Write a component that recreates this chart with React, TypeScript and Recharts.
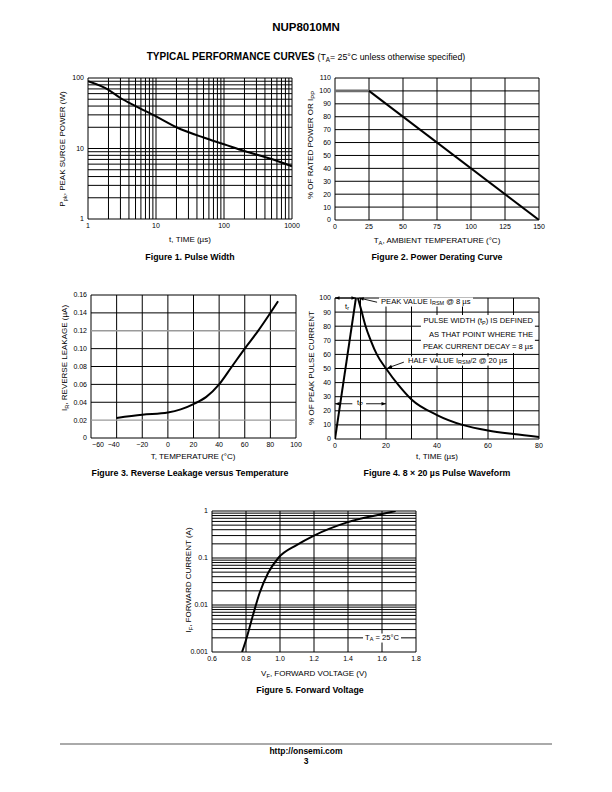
import React from "react";
import { LineChart, Line, XAxis, YAxis, ReferenceLine } from "recharts";

// Figure 1 - pulse width
const pulseTime = [1, 2, 3, 5, 10, 20, 50, 100, 200, 500, 1000];
const pulsePower = [90, 68, 52, 40, 28.5, 20, 14.3, 11.5, 9.2, 7.1, 5.6];
const pulseTimeTicks = [1, 10, 100, 1000];
const pulsePowerTicks = [1, 10, 100];

// Figure 2 - power derating
const derateTemp = [0, 25, 150];
const deratePct = [100, 100, 0];
const derateTempTicks = [0, 25, 50, 75, 100, 125, 150];
const deratePctTicks = [0, 10, 20, 30, 40, 50, 60, 70, 80, 90, 100, 110];

// Figure 3 - reverse leakage
const leakTemp = [-40, -20, 0, 10, 20, 30, 40, 50, 60, 70, 80, 86];
const leakCurrent = [0.0225, 0.026, 0.0285, 0.032, 0.038, 0.046, 0.06, 0.08, 0.1, 0.119, 0.14, 0.153];
const leakTempTicks = [-60, -40, -20, 0, 20, 40, 60, 80, 100];
const leakCurrentTicks = [0, 0.02, 0.04, 0.06, 0.08, 0.1, 0.12, 0.14, 0.16];
const leakGreyRows = [0.02, 0.12];

// Figure 4 - 8 x 20 us waveform
const riseTime = [0, 8.2];
const risePct = [0, 100];
const decayTime = [9, 10.5, 12, 14, 16.4, 20, 25, 30, 40, 50, 60, 70, 80];
const decayPct = [100, 90, 80, 70, 60, 50, 38, 28, 17, 10, 6, 3.5, 1.5];
const waveTimeTicks = [0, 20, 40, 60, 80];
const waveTimeGrid = [0, 10, 20, 30, 40, 50, 60, 70, 80];
const wavePctTicks = [0, 10, 20, 30, 40, 50, 60, 70, 80, 90, 100];

// Figure 5 - forward voltage
const fwdVolt = [0.777, 0.8, 0.84, 0.88, 0.93, 0.99, 1.1, 1.2, 1.4, 1.6, 1.68];
const fwdCurrent = [0.001, 0.0018, 0.0059, 0.018, 0.048, 0.1, 0.19, 0.3, 0.58, 0.86, 1.0];
const fwdVoltTicks = [0.6, 0.8, 1.0, 1.2, 1.4, 1.6, 1.8];
const fwdCurrentTicks = [0.001, 0.01, 0.1, 1];

const FONT = '"Liberation Sans", Arial, Helvetica, sans-serif';
const PAD_L = 30;
const PAD_R = 14;
const PAD_T = 6;
const PAD_B = 16;
const tickStyle = { fontSize: 7, fill: "#000" };
const TITLE = 8;
const CAPTION = 8.8;
const NOTE = 7.6;

// 1..9 per decade, for the log grids
function decadeGrid(lo: number, hi: number) {
  const out: number[] = [];
  for (let d = lo; d < hi * 0.99; d *= 10) {
    for (let m = 1; m < 10; m++) out.push(+(m * d).toPrecision(3));
  }
  out.push(hi);
  return out;
}

const rows = (xs: number[], ys: number[]) => xs.map((x, i) => ({ x, y: ys[i] }));

function gridLines(xs: number[], ys: number[], grey: number[] = []) {
  return [
    ...xs.map((v) => <ReferenceLine key={"gx" + v} x={v} stroke="#000" strokeWidth={1} ifOverflow="visible" />),
    ...ys.map((v) => (
      <ReferenceLine
        key={"gy" + v}
        y={v}
        stroke={grey.includes(v) ? "#9a9a9a" : "#000"}
        strokeWidth={grey.includes(v) ? 1.4 : 1}
        ifOverflow="visible"
      />
    )),
  ];
}

function arrowShape(headStart: boolean, headEnd: boolean) {
  return (p: any) => {
    const { x1, y1, x2, y2 } = p;
    const len = Math.hypot(x2 - x1, y2 - y1) || 1;
    const ux = (x2 - x1) / len;
    const uy = (y2 - y1) / len;
    const head = (tx: number, ty: number, dx: number, dy: number) => {
      const L = 4.5;
      const W = 1.8;
      const bx = tx - dx * L;
      const by = ty - dy * L;
      return `${tx},${ty} ${bx - dy * W},${by + dx * W} ${bx + dy * W},${by - dx * W}`;
    };
    return (
      <g>
        <line x1={x1} y1={y1} x2={x2} y2={y2} stroke="#000" strokeWidth={0.9} />
        {headStart && <polygon points={head(x1, y1, -ux, -uy)} fill="#000" />}
        {headEnd && <polygon points={head(x2, y2, ux, uy)} fill="#000" />}
      </g>
    );
  };
}

type Box = { x: number; y: number; w: number; h: number };

function Plot({ box, data, children }: { box: Box; data?: any[]; children: React.ReactNode }) {
  return (
    <div style={{ position: "absolute", left: box.x - PAD_L, top: box.y - PAD_T }}>
      <LineChart
        width={box.w + PAD_L + PAD_R}
        height={box.h + PAD_T + PAD_B}
        data={data}
        margin={{ top: PAD_T, right: PAD_R, left: 0, bottom: 0 }}
      >
        {children}
      </LineChart>
    </div>
  );
}

function Txt({
  x,
  y,
  children,
  size = TITLE,
  bold = false,
  anchor = "center",
  bg = false,
}: {
  x: number;
  y: number;
  children: React.ReactNode;
  size?: number;
  bold?: boolean;
  anchor?: "left" | "center" | "right";
  bg?: boolean;
}) {
  const tx = anchor === "left" ? "0" : anchor === "right" ? "-100%" : "-50%";
  return (
    <div
      style={{
        position: "absolute",
        left: x,
        top: y,
        transform: `translate(${tx}, -50%)`,
        fontSize: size,
        fontWeight: bold ? 700 : 400,
        whiteSpace: "nowrap",
        lineHeight: 1.15,
        background: bg ? "#fff" : undefined,
        padding: bg ? "0 2px" : undefined,
      }}
    >
      {children}
    </div>
  );
}

function VTxt({ x, y, children, size = TITLE }: { x: number; y: number; children: React.ReactNode; size?: number }) {
  return (
    <div
      style={{
        position: "absolute",
        left: x,
        top: y,
        transform: "translate(-50%, -50%) rotate(-90deg)",
        fontSize: size,
        whiteSpace: "nowrap",
        lineHeight: 1,
      }}
    >
      {children}
    </div>
  );
}

const Sub = ({ children }: { children: React.ReactNode }) => (
  <span style={{ fontSize: "0.72em", verticalAlign: "-0.3em" }}>{children}</span>
);

const fig1: Box = { x: 88, y: 78, w: 204, h: 141 };
const fig2: Box = { x: 335, y: 78, w: 204, h: 142 };
const fig3: Box = { x: 91, y: 295, w: 205, h: 143 };
const fig4: Box = { x: 335, y: 298, w: 204, h: 141 };
const fig5: Box = { x: 212, y: 511, w: 204, h: 141 };

const axisCommon = {
  tickLine: false,
  axisLine: false,
  tickSize: 0,
  tick: tickStyle,
  interval: 0 as const,
  allowDataOverflow: true,
};

const leakTickShift: Record<number, number> = { [-60]: 7, [-40]: -3 };

function LeakTick(p: any) {
  const v = p.payload.value as number;
  const label = v < 0 ? "\u2212" + -v : String(v);
  return (
    <text x={p.x + (leakTickShift[v] || 0)} y={p.y} dy="0.71em" textAnchor="middle" fontSize={7} fill="#000">
      {label}
    </text>
  );
}

export default function App() {
  const pulseRows = rows(pulseTime, pulsePower);
  const flatRows = rows(derateTemp.slice(0, 2), deratePct.slice(0, 2));
  const slopeRows = rows(derateTemp.slice(1), deratePct.slice(1));
  const leakRows = rows(leakTemp, leakCurrent);
  const riseRows = rows(riseTime, risePct);
  const decayRows = rows(decayTime, decayPct);
  const fwdRows = rows(fwdVolt, fwdCurrent);

  return (
    <div
      style={{
        position: "absolute",
        left: 0,
        top: 0,
        width: 612,
        height: 792,
        background: "#fff",
        color: "#000",
        fontFamily: FONT,
        overflow: "hidden",
      }}
    >
      <Txt x={306} y={28} size={11.5} bold>
        NUP8010MN
      </Txt>
      <Txt x={306} y={57} size={10}>
        <b>TYPICAL PERFORMANCE CURVES</b>{" "}
        <span style={{ fontSize: 8.8 }}>
          (T<Sub>A</Sub>= 25°C unless otherwise specified)
        </span>
      </Txt>

      {/* Figure 1 */}
      <Plot box={fig1} data={pulseRows}>
        <XAxis
          {...axisCommon}
          dataKey="x"
          type="number"
          scale="log"
          domain={[1, 1000]}
          ticks={pulseTimeTicks}
          height={PAD_B}
          tickMargin={4}
        />
        <YAxis
          {...axisCommon}
          type="number"
          scale="log"
          domain={[1, 100]}
          ticks={pulsePowerTicks}
          width={PAD_L}
          tickMargin={4}
        />
        {gridLines(decadeGrid(1, 1000), decadeGrid(1, 100))}
        <Line dataKey="y" type="monotone" stroke="#000" strokeWidth={2} dot={false} isAnimationActive={false} />
      </Plot>
      <VTxt x={64} y={149}>
        P<Sub>pk</Sub>, PEAK SURGE POWER (W)
      </VTxt>
      <Txt x={190} y={240}>
        t, TIME (µs)
      </Txt>
      <Txt x={190} y={257} size={CAPTION} bold>
        Figure 1. Pulse Width
      </Txt>

      {/* Figure 2 */}
      <Plot box={fig2}>
        <XAxis
          {...axisCommon}
          dataKey="x"
          type="number"
          domain={[0, 150]}
          ticks={derateTempTicks}
          height={PAD_B}
          tickMargin={4}
        />
        <YAxis {...axisCommon} type="number" domain={[0, 110]} ticks={deratePctTicks} width={PAD_L} tickMargin={4} />
        {gridLines(derateTempTicks, deratePctTicks)}
        <Line data={flatRows} dataKey="y" type="linear" stroke="#6e6e6e" strokeWidth={2.6} dot={false} isAnimationActive={false} />
        <Line data={slopeRows} dataKey="y" type="linear" stroke="#000" strokeWidth={2} dot={false} isAnimationActive={false} />
      </Plot>
      <VTxt x={312} y={145}>
        % OF RATED POWER OR I<Sub>PP</Sub>
      </VTxt>
      <Txt x={437} y={241}>
        T<Sub>A</Sub>, AMBIENT TEMPERATURE (°C)
      </Txt>
      <Txt x={437} y={257} size={CAPTION} bold>
        Figure 2. Power Derating Curve
      </Txt>

      {/* Figure 3 */}
      <Plot box={fig3} data={leakRows}>
        <XAxis
          {...axisCommon}
          dataKey="x"
          type="number"
          domain={[-60, 100]}
          ticks={leakTempTicks}
          height={PAD_B}
          tickMargin={4}
          tick={<LeakTick />}
        />
        <YAxis
          {...axisCommon}
          type="number"
          domain={[0, 0.16]}
          ticks={leakCurrentTicks}
          width={PAD_L}
          tickMargin={4}
          tickFormatter={(v: number) => (v === 0 ? "0" : v.toFixed(2))}
        />
        {gridLines(leakTempTicks, leakCurrentTicks, leakGreyRows)}
        <Line dataKey="y" type="monotone" stroke="#000" strokeWidth={2} dot={false} isAnimationActive={false} />
      </Plot>
      <VTxt x={66} y={358}>
        I<Sub>R</Sub>, REVERSE LEAKAGE (µA)
      </VTxt>
      <Txt x={193} y={457}>
        T, TEMPERATURE (°C)
      </Txt>
      <Txt x={190} y={473} size={CAPTION} bold>
        Figure 3. Reverse Leakage versus Temperature
      </Txt>

      {/* Figure 4 */}
      <Plot box={fig4}>
        <XAxis
          {...axisCommon}
          dataKey="x"
          type="number"
          domain={[0, 80]}
          ticks={waveTimeTicks}
          height={PAD_B}
          tickMargin={4}
        />
        <YAxis {...axisCommon} type="number" domain={[0, 100]} ticks={wavePctTicks} width={PAD_L} tickMargin={4} />
        {gridLines(waveTimeGrid, wavePctTicks)}
        <Line data={riseRows} dataKey="y" type="linear" stroke="#000" strokeWidth={2} dot={false} isAnimationActive={false} />
        <Line data={decayRows} dataKey="y" type="monotone" stroke="#000" strokeWidth={2} dot={false} isAnimationActive={false} />
        <ReferenceLine segment={[{ x: 0, y: 100 }, { x: 8.2, y: 100 }]} shape={arrowShape(true, true)} ifOverflow="visible" />
        <ReferenceLine segment={[{ x: 9.5, y: 100 }, { x: 16.5, y: 97 }]} shape={arrowShape(true, false)} ifOverflow="visible" />
        <ReferenceLine segment={[{ x: 27, y: 54.5 }, { x: 20.6, y: 50.3 }]} shape={arrowShape(false, true)} ifOverflow="visible" />
        <ReferenceLine segment={[{ x: 0, y: 25 }, { x: 6.8, y: 25 }]} shape={arrowShape(true, false)} ifOverflow="visible" />
        <ReferenceLine segment={[{ x: 12.2, y: 25 }, { x: 20, y: 25 }]} shape={arrowShape(false, true)} ifOverflow="visible" />
      </Plot>
      <Txt x={347} y={307} size={NOTE}>
        t<Sub>r</Sub>
      </Txt>
      <Txt x={379} y={302} size={NOTE} anchor="left" bg>
        PEAK VALUE I<Sub>RSM</Sub> @ 8 µs
      </Txt>
      <div
        style={{
          position: "absolute",
          left: 535,
          top: 315,
          transform: "translateX(-100%)",
          fontSize: NOTE,
          lineHeight: "12px",
          textAlign: "right",
          background: "#fff",
          padding: "0 2px",
          whiteSpace: "nowrap",
        }}
      >
        PULSE WIDTH (t<Sub>P</Sub>) IS DEFINED
        <br />
        AS THAT POINT WHERE THE
        <br />
        PEAK CURRENT DECAY = 8 µs
      </div>
      <Txt x={406} y={361} size={NOTE} anchor="left" bg>
        HALF VALUE I<Sub>RSM</Sub>/2 @ 20 µs
      </Txt>
      <Txt x={360} y={403} size={NOTE}>
        t<Sub>P</Sub>
      </Txt>
      <VTxt x={312} y={368}>
        % OF PEAK PULSE CURRENT
      </VTxt>
      <Txt x={437} y={457}>
        t, TIME (µs)
      </Txt>
      <Txt x={437} y={473} size={CAPTION} bold>
        Figure 4. 8 × 20 µs Pulse Waveform
      </Txt>

      {/* Figure 5 */}
      <Plot box={fig5} data={fwdRows}>
        <XAxis
          {...axisCommon}
          dataKey="x"
          type="number"
          domain={[0.6, 1.8]}
          ticks={fwdVoltTicks}
          height={PAD_B}
          tickMargin={4}
          tickFormatter={(v: number) => v.toFixed(1)}
        />
        <YAxis
          {...axisCommon}
          type="number"
          scale="log"
          domain={[0.001, 1]}
          ticks={fwdCurrentTicks}
          width={PAD_L}
          tickMargin={4}
          tickFormatter={(v: number) => String(v)}
        />
        {gridLines(fwdVoltTicks, decadeGrid(0.001, 1))}
        <Line dataKey="y" type="monotone" stroke="#000" strokeWidth={2} dot={false} isAnimationActive={false} />
      </Plot>
      <Txt x={382} y={638} size={NOTE} bg>
        T<Sub>A</Sub> = 25°C
      </Txt>
      <VTxt x={190} y={580}>
        I<Sub>F</Sub>, FORWARD CURRENT (A)
      </VTxt>
      <Txt x={314} y={674}>
        V<Sub>F</Sub>, FORWARD VOLTAGE (V)
      </Txt>
      <Txt x={310} y={690} size={CAPTION} bold>
        Figure 5. Forward Voltage
      </Txt>

      {/* footer */}
      <div style={{ position: "absolute", left: 60, top: 743, width: 492, height: 2, background: "#aaa" }} />
      <Txt x={306} y={752} size={8.5} bold>
        http://onsemi.com
      </Txt>
      <Txt x={306} y={762} size={8.5} bold>
        3
      </Txt>
    </div>
  );
}
